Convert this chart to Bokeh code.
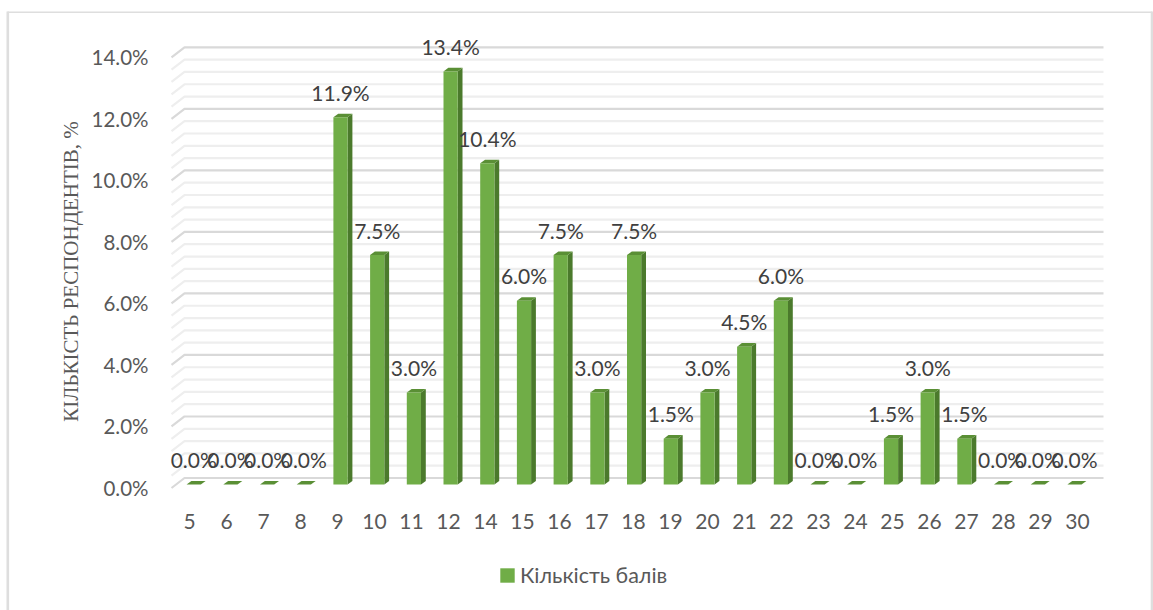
from bokeh.plotting import figure
from bokeh.models import (ColumnDataSource, FixedTicker, Label, Legend, LegendItem,
                          PrintfTickFormatter, Range1d)
from bokeh.core.properties import value
from bokeh.embed import file_html
from bokeh.resources import INLINE

categories = ["5", "6", "7", "8", "9", "10", "11", "12", "14", "15", "16", "17", "18",
              "19", "20", "21", "22", "23", "24", "25", "26", "27", "28", "29", "30"]
percent = [0, 0, 0, 0, 11.94, 7.46, 2.99, 13.43, 10.44, 5.97, 7.46, 2.99, 7.46,
           1.49, 2.99, 4.48, 5.97, 0, 0, 1.49, 2.99, 1.49, 0, 0, 0]
y_ticks = [0, 2, 4, 6, 8, 10, 12, 14]
series_name = "Кількість балів"
y_title = "КІЛЬКІСТЬ РЕСПОНДЕНТІВ, %"

# geometry: the plot frame fills the whole canvas, scales set from the picture's pixels
W, H = 1153, 610
PX_PER_PCT = 30.76
Y0_PX = 487.5      # value 0 on the front edge of the floor
STEP = 36.7        # px between bars
X0_PX = 193.2      # centre of first bar front
LABEL_X0, LABEL_STEP = 189.0, 37.0


def xv(px):
    return (px - X0_PX) / STEP


def yv(px):
    return (Y0_PX - px) / PX_PER_PCT


dx_wall, dy_wall = 13 / STEP, 10 / PX_PER_PCT
bar_lift = 3.5 / PX_PER_PCT
bar_w = 14.2 / STEP
dx_bar, dy_bar = 4.8 / STEP, 3.6 / PX_PER_PCT

p = figure(width=W, height=H, output_backend="svg", toolbar_location=None,
           x_range=Range1d(xv(0), xv(W)), y_range=Range1d(yv(H), yv(0)),
           min_border=0, outline_line_color=None,
           background_fill_color="white", border_fill_color="white")
p.xgrid.visible = False
p.ygrid.visible = False

# chart-area border (its bottom edge lies beyond the picture)
p.multi_line([[xv(7.3), xv(7.3)], [xv(1151.5), xv(1151.5)]], [[yv(11), yv(H)], [yv(11), yv(H)]],
             line_color="#dedede", line_width=2.6)
p.line([xv(7), xv(1151.5)], [yv(11.7), yv(11.7)], line_color="#dedede", line_width=1.6)

# gridlines: floor edge diagonal plus back wall line
x_front = xv(171)
wall_r = xv(1103)
n_grid = 35
maj_x, maj_y, min_x, min_y = [], [], [], []
for k in range(n_grid + 1):
    v = k * 0.4
    xs = [x_front, x_front + dx_wall, wall_r]
    ys = [v, v + dy_wall, v + dy_wall]
    if k % 5 == 0:
        maj_x.append(xs); maj_y.append(ys)
    else:
        min_x.append(xs); min_y.append(ys)
p.multi_line(min_x, min_y, line_color="#eeeeee", line_width=2.2)
p.multi_line(maj_x, maj_y, line_color="#d9d9d9", line_width=2.2)

# 3D bars
front_c = list(range(len(percent)))
left = [c - bar_w / 2 for c in front_c]
right = [c + bar_w / 2 for c in front_c]
base = [bar_lift] * len(percent)
top = [bar_lift + v for v in percent]
side_x = [[r, r + dx_bar, r + dx_bar, r] for r in right]
side_y = [[b, b + dy_bar, t + dy_bar, t] for b, t in zip(base, top)]
cap_x = [[l, l + dx_bar, r + dx_bar, r] for l, r in zip(left, right)]
cap_y = [[t, t + dy_bar, t + dy_bar, t] for t in top]
p.patches(side_x, side_y, fill_color="#4b7a2c", line_color=None)
p.patches(cap_x, cap_y, fill_color="#5a8f35", line_color=None)
bars = p.quad(left=left, right=right, bottom=base, top=top,
              fill_color="#70ad47", line_color=None)

# data labels
src = ColumnDataSource(dict(x=front_c, y=top, t=[f"{v:.1f}%" for v in percent]))
p.text("x", "y", text="t", source=src, text_align="center", text_baseline="middle",
       y_offset=-25, text_font=value("Lato"), text_font_size="21px", text_color="#404040")

# axes
xa, ya = p.xaxis[0], p.yaxis[0]
tick_pos = [round(xv(LABEL_X0 + LABEL_STEP * i), 4) for i in range(len(categories))]
xa.ticker = FixedTicker(ticks=tick_pos)
xa.major_label_overrides = dict(zip(tick_pos, categories))
xa.fixed_location = yv(493)
ya.ticker = FixedTicker(ticks=y_ticks)
ya.formatter = PrintfTickFormatter(format="%.1f%%")
ya.fixed_location = xv(171)
for a in (xa, ya):
    a.axis_line_color = None
    a.major_tick_line_color = None
    a.minor_tick_line_color = None
    a.major_label_text_font = "Lato"
    a.major_label_text_color = "#595959"
xa.major_label_text_font_size = "21px"
ya.major_label_text_font_size = "20.5px"
xa.major_label_standoff = 14
ya.major_label_standoff = 17

# y title
p.add_layout(Label(x=xv(70), y=yv(271), text=y_title, angle=90, angle_units="deg",
                   text_font="Liberation Serif", text_font_size="21px", text_color="#595959",
                   text_align="center", text_baseline="middle"))

# legend
legend = Legend(items=[LegendItem(label=series_name, renderers=[bars])],
                location=(498, 22), orientation="horizontal",
                border_line_color=None, background_fill_alpha=0, padding=0, margin=0,
                glyph_width=18, glyph_height=18, label_standoff=4,
                label_text_font="Lato", label_text_font_size="21.5px",
                label_text_color="#595959")
p.add_layout(legend, "center")

open("out.html", "w").write(file_html(p, INLINE))
